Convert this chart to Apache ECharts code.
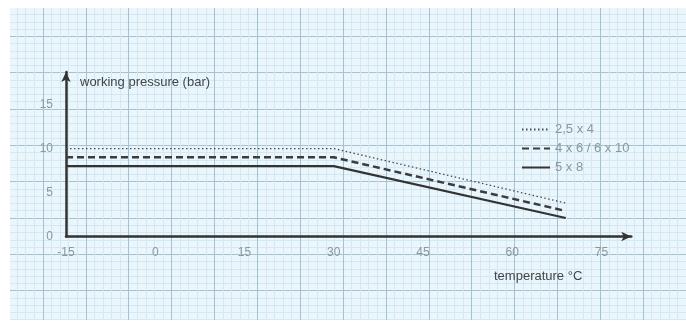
<!DOCTYPE html>
<html>
<head>
<meta charset="utf-8">
<script src="https://cdn.jsdelivr.net/npm/echarts@6/dist/echarts.min.js"></script>
<style>
html,body{margin:0;padding:0;background:#ffffff;}
#chart{width:686px;height:327px;}
</style>
</head>
<body>
<div id="chart"></div>
<script>
// ---- data ----
const temperatures = [-15, 30, 69];
const pressure_2_5x4 = [10, 10, 3.8];
const pressure_4x6_6x10 = [9, 9, 2.9];
const pressure_5x8 = [8, 8, 2.1];
const seriesNames = ['2,5 x 4', '4 x 6 / 6 x 10', '5 x 8'];
const xTickLabels = [-15, 0, 15, 30, 45, 60, 75];
const yTickLabels = [0, 5, 10, 15];
const xAxisTitle = 'temperature °C';
const yAxisTitle = 'working pressure (bar)';

function pairs(xs, ys) { return xs.map((x, i) => [x, ys[i]]); }

const chart = echarts.init(document.getElementById('chart'), null, {renderer: 'canvas'});
const font = 'Liberation Sans, Arial, sans-serif';
const paperMajor = '#a3c3d2';
const paperMinor = '#d3e8f0';

const option = {
  animation: false,
  backgroundColor: '#eaf6fb',
  grid: [
    // grid paper background (same scale as chart)
    {left: -23.25, right: -4.75, top: -27.5, bottom: -41.5, show: false},
    // chart
    {left: 66, right: 54.75, top: 72, bottom: 90.5, show: false}
  ],
  xAxis: [
    {
      gridIndex: 0, type: 'value', min: -30, max: 90, interval: 7.5,
      axisLine: {show: false}, axisTick: {show: false}, axisLabel: {show: false},
      splitLine: {show: true, lineStyle: {color: paperMajor, width: 1}},
      minorTick: {show: false, splitNumber: 5},
      minorSplitLine: {show: true, lineStyle: {color: paperMinor, width: 1}}
    },
    {
      gridIndex: 1, type: 'value', min: -15, max: 80, interval: 15,
      axisLine: {show: true, onZero: false, symbol: ['none', 'arrow'], symbolSize: [7, 10],
        lineStyle: {color: '#333', width: 2.5}},
      axisTick: {show: false},
      splitLine: {show: false},
      axisLabel: {
        color: '#8c979c', fontSize: 12, fontFamily: font, margin: 10,
        formatter: v => (xTickLabels.indexOf(v) >= 0 ? String(v) : '')
      }
    }
  ],
  yAxis: [
    {
      gridIndex: 0, type: 'value', min: -15, max: 30, interval: 5,
      axisLine: {show: false}, axisTick: {show: false}, axisLabel: {show: false},
      splitLine: {show: true, lineStyle: {color: paperMajor, width: 1}},
      minorTick: {show: false, splitNumber: 5},
      minorSplitLine: {show: true, lineStyle: {color: paperMinor, width: 1}}
    },
    {
      gridIndex: 1, type: 'value', min: 0, max: 18.7, interval: 5,
      name: yAxisTitle, nameLocation: 'end', nameGap: -10,
      nameTextStyle: {color: '#404548', fontSize: 13, fontFamily: font, align: 'left',
        verticalAlign: 'middle', padding: [0, 0, 0, 14]},
      axisLine: {show: true, onZero: false, symbol: ['none', 'arrow'], symbolSize: [7, 10],
        lineStyle: {color: '#333', width: 2.5}},
      axisTick: {show: false},
      splitLine: {show: false},
      axisLabel: {
        color: '#8c979c', fontSize: 12, fontFamily: font, margin: 13,
        formatter: v => (yTickLabels.indexOf(v) >= 0 ? String(v) : '')
      }
    }
  ],
  legend: {
    orient: 'vertical', left: 516, top: 118, itemWidth: 28, itemHeight: 12, itemGap: 6,
    itemStyle: {opacity: 0},
    textStyle: {color: '#8c979c', fontSize: 13, fontFamily: font},
    data: seriesNames
  },
  graphic: [
    {type: 'rect', z: 5, shape: {x: 0, y: 0, width: 686, height: 8}, style: {fill: '#ffffff'}},
    {type: 'rect', z: 5, shape: {x: 0, y: 0, width: 10, height: 327}, style: {fill: '#ffffff'}},
    {type: 'rect', z: 5, shape: {x: 0, y: 320, width: 686, height: 7}, style: {fill: '#ffffff'}},
    {type: 'text', z: 6, left: 494, top: 270,
      style: {text: xAxisTitle, fill: '#404548', fontSize: 13, fontFamily: font}}
  ],
  series: [
    {
      name: seriesNames[0], type: 'line', xAxisIndex: 1, yAxisIndex: 1,
      data: pairs(temperatures, pressure_2_5x4), symbol: 'none', silent: true,
      lineStyle: {color: '#4a4a4a', width: 1.3, type: [1.5, 2.5]},
      itemStyle: {color: '#4a4a4a'}
    },
    {
      name: seriesNames[1], type: 'line', xAxisIndex: 1, yAxisIndex: 1,
      data: pairs(temperatures, pressure_4x6_6x10), symbol: 'none', silent: true,
      lineStyle: {color: '#3c3c3c', width: 2.5, type: [7, 4]},
      itemStyle: {color: '#3c3c3c'}
    },
    {
      name: seriesNames[2], type: 'line', xAxisIndex: 1, yAxisIndex: 1,
      data: pairs(temperatures, pressure_5x8), symbol: 'none', silent: true,
      lineStyle: {color: '#333333', width: 2.2, type: 'solid'},
      itemStyle: {color: '#333333'}
    }
  ]
};
chart.setOption(option);
</script>
</body>
</html>
